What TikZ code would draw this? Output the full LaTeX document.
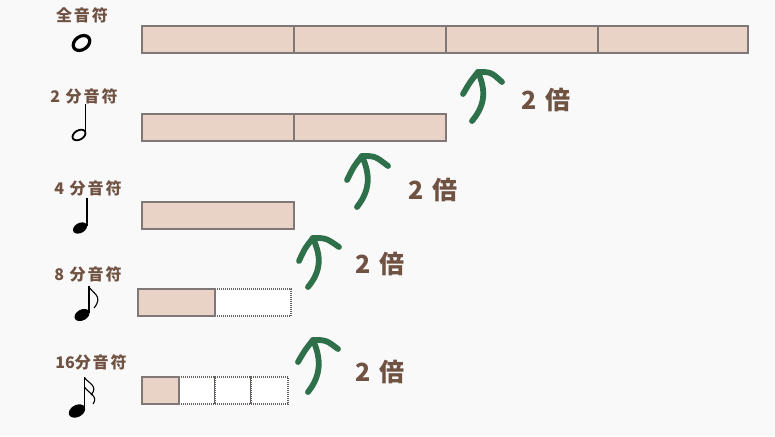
\documentclass[tikz,border=0pt]{standalone}
\usepackage{fontspec}
\newfontfamily\jp{Noto Sans CJK JP}
\newfontfamily\jplab[LetterSpace=12]{Noto Sans CJK JP}
\definecolor{bgc}{RGB}{249,249,249}
\definecolor{barfill}{RGB}{232,211,198}
\definecolor{barline}{RGB}{128,120,118}
\definecolor{txtbrown}{RGB}{112,82,66}
\definecolor{arrgreen}{RGB}{46,112,74}
\tikzset{
  cell/.style={draw=barline, line width=1.6pt, fill=barfill, anchor=north west, inner sep=0pt, minimum height=27pt},
  emptycell/.style={draw=barline!80!black, line width=1.6pt, dash pattern=on 1pt off 1pt, fill=white, anchor=north west, inner sep=0pt, minimum height=27pt},
  lab/.style={text=txtbrown, font=\jplab\bfseries\fontsize{16}{18}\selectfont, inner sep=0pt},
  times/.style={text=txtbrown, font=\jp\bfseries\fontsize{25}{28}\selectfont, inner sep=0pt},
  grarrow/.style={draw=arrgreen, line width=5.8pt, line cap=round, line join=round},
  notel/.style={draw=black, line width=1.5pt},
  notefill/.style={fill=black}
}
\begin{document}
\begin{tikzpicture}[x=1pt,y=-1pt]
\fill[bgc] (0,0) rectangle (775,436);
\useasboundingbox (0,0) rectangle (775,436);

% labels
\node[lab] (l1) at (82,15) {全音符};
\node[lab] (l2) at (84,96) {2 分音符};
\node[lab] (l4) at (88,188) {4 分音符};
\node[lab] (l8) at (88,274) {8 分音符};
\node[lab] (l16) at (91,362) {{\jp 16}分音符};

% whole bar
\node[cell, minimum width=152pt] (w1) at (141,25) {};
\node[cell, minimum width=152pt] (w2) at (293,25) {};
\node[cell, minimum width=152pt] (w3) at (445,25) {};
\node[cell, minimum width=150pt] (w4) at (597,25) {};
% half bar
\node[cell, minimum width=152pt] (h1) at (141,113) {};
\node[cell, minimum width=152pt] (h2) at (293,113) {};
% quarter
\node[cell, minimum width=152pt] (q1) at (141,201) {};
% eighth
\node[emptycell, minimum width=76pt] (e2) at (214,288) {};
\node[cell, minimum width=77pt] (e1) at (137,288) {};
% sixteenth
\node[emptycell, minimum width=36pt] (s2) at (178,376) {};
\node[emptycell, minimum width=36pt] (s3) at (214,376) {};
\node[emptycell, minimum width=37pt] (s4) at (250,376) {};
\node[cell, minimum width=37pt] (s1) at (141,376) {};

% notes
% whole
\draw[draw=black, line width=3.2pt] (81.5,43) ellipse [x radius=9, y radius=6.6, rotate=35];
% half
\draw[notel, line width=1.8pt] (79,135) ellipse [x radius=7, y radius=4.6, rotate=30];
\draw[notel] (85.5,104) -- (85.5,133);
% quarter
\fill[notefill] (80,228) ellipse [x radius=7.5, y radius=5, rotate=28];
\draw[notel] (86.8,198) -- (86.8,226);
% eighth
\fill[notefill] (82,315) ellipse [x radius=8, y radius=5.4, rotate=28];
\draw[notel] (88.8,286) -- (88.8,313);
\draw[draw=black, line width=1.1pt] (88.8,286.5) .. controls (92,293) and (104,296) .. (94,308);
% sixteenth
\fill[notefill] (77,411) ellipse [x radius=8.7, y radius=6, rotate=28];
\draw[notel] (84.5,377) -- (84.5,409);
\draw[draw=black, line width=1.1pt] (84.5,377.5) .. controls (88,383) and (99,386) .. (91,395);
\draw[draw=black, line width=1.1pt] (84.5,387) .. controls (88,393) and (99,396) .. (93,404);

% arrows
\coordinate (t1) at (478,72);
\coordinate (t2) at (362,156);
\coordinate (t3) at (313,238);
\coordinate (t4) at (313,340);
\draw[grarrow, shift={(t1)}] (-6,49) .. controls (10,30) and (6,14) .. (0,0);
\draw[grarrow, shift={(t1)}] (-15,22) .. controls (-8,10) .. (0,0) .. controls (13,0) .. (24,10);
\draw[grarrow, shift={(t2)}] (-5,51) .. controls (11,31) and (6,14) .. (0,0);
\draw[grarrow, shift={(t2)}] (-15,24) .. controls (-8,10) .. (0,0) .. controls (13,0) .. (26,10);
\draw[grarrow, shift={(t3)}] (-5,49) .. controls (11,30) and (6,14) .. (0,0);
\draw[grarrow, shift={(t3)}] (-14,23) .. controls (-8,10) .. (0,0) .. controls (13,0) .. (26,9);
\draw[grarrow, shift={(t4)}] (-5,52) .. controls (11,32) and (6,14) .. (0,0);
\draw[grarrow, shift={(t4)}] (-15,22) .. controls (-8,10) .. (0,0) .. controls (13,0) .. (25,9);

% times labels
\node[times] (x1) at (546,100) {2\hspace{9pt}倍};
\node[times] (x2) at (433,190) {2\hspace{9pt}倍};
\node[times] (x3) at (380,264) {2\hspace{9pt}倍};
\node[times] (x4) at (380,372) {2\hspace{9pt}倍};
\end{tikzpicture}
\end{document}
